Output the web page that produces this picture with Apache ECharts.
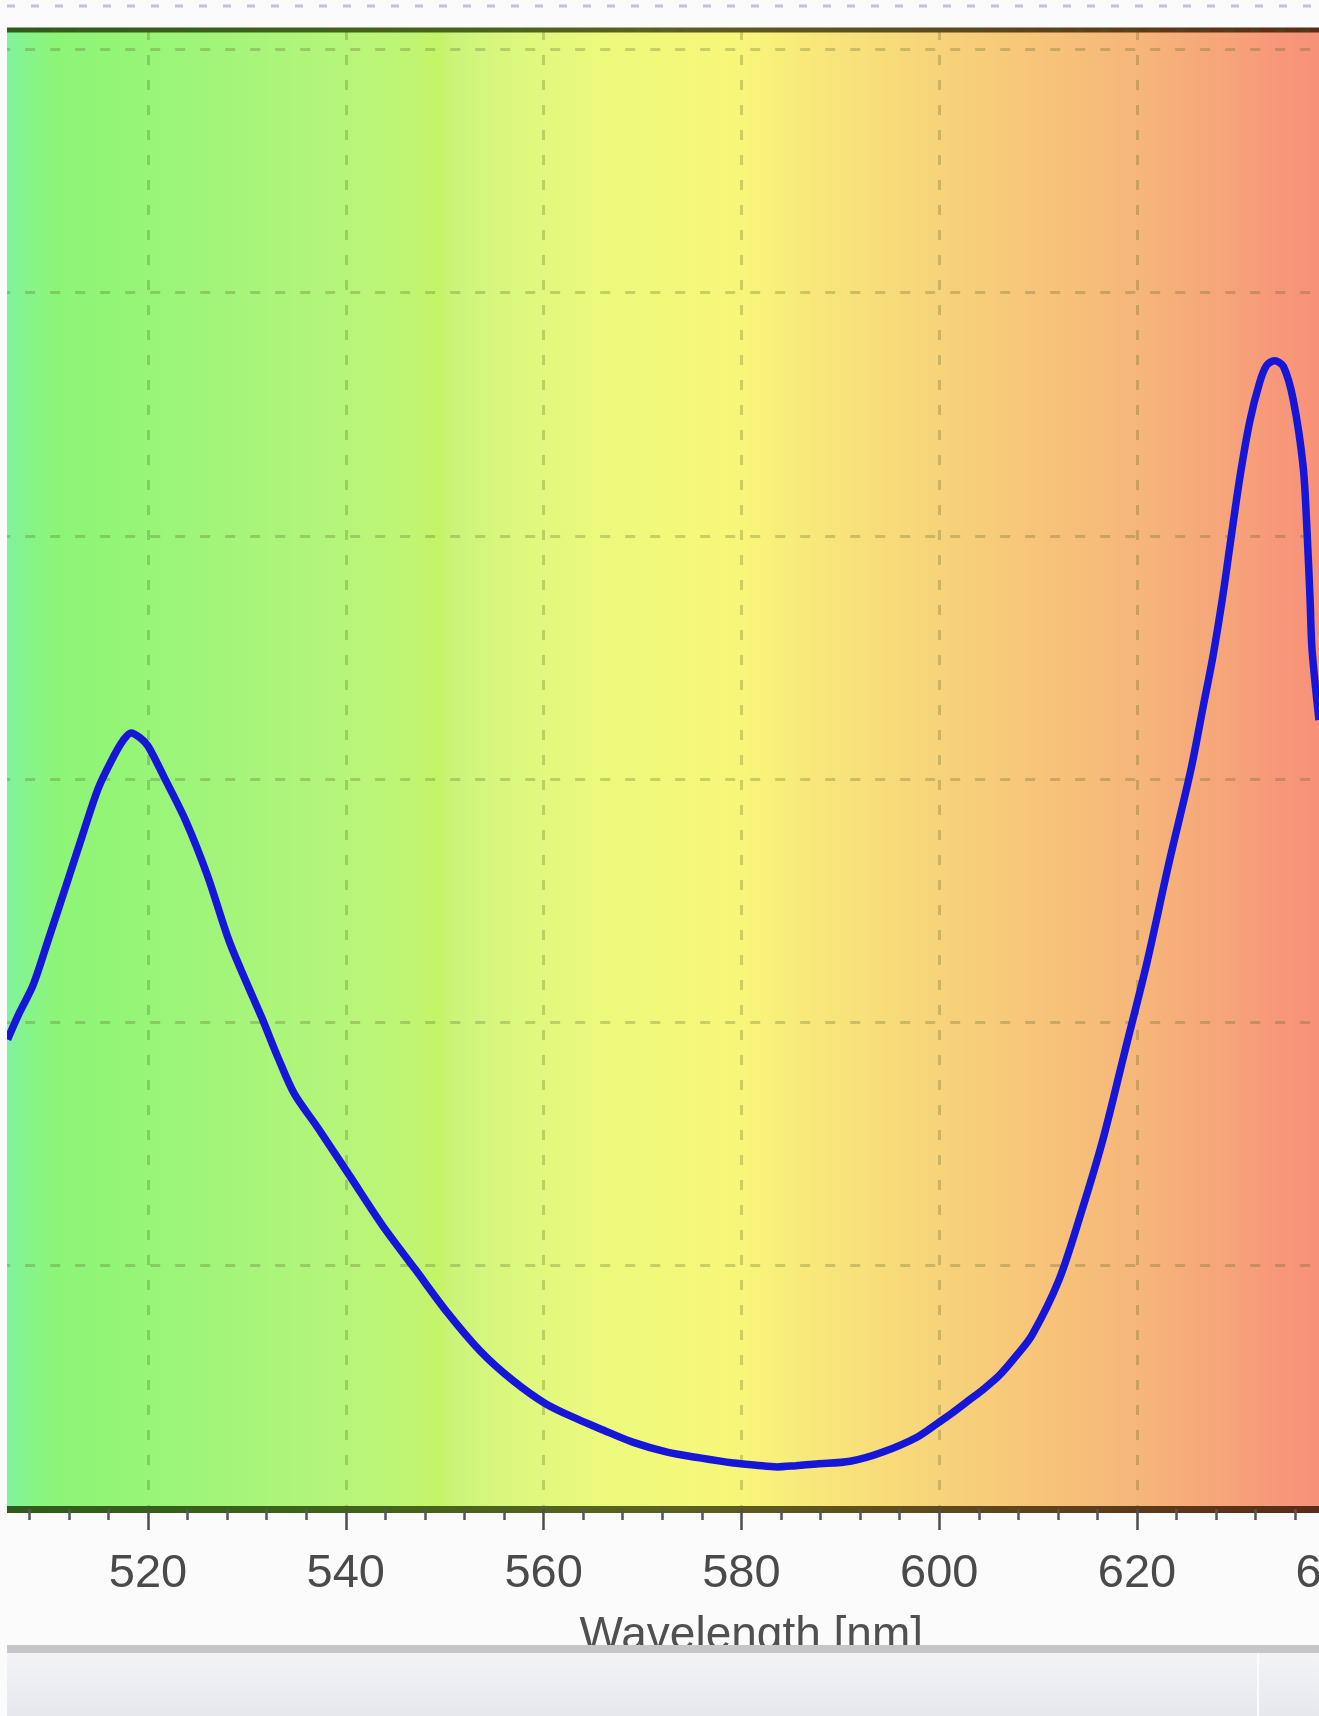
<!DOCTYPE html>
<html><head><meta charset="utf-8">
<script src="https://cdn.jsdelivr.net/npm/echarts@6/dist/echarts.min.js"></script>
<style>
html,body{margin:0;padding:0;background:#fbfbfb;width:1319px;height:1716px;overflow:hidden}
#c{position:absolute;left:7px;top:0;width:1312px;height:1716px}
</style></head><body><div id="c"></div>
<script>
// Spectrum data (wavelength in nm, intensity in counts)
const wavelengths = [505.8,507.0,508.4,510.0,511.7,513.3,515.0,516.6,517.5,518.3,519.2,520.0,521.6,523.8,526.0,528.2,530.0,531.5,533.2,534.8,537.1,540.4,543.7,547.0,550.3,553.6,556.9,560.2,563.6,565.7,569.0,572.5,575.8,579.2,581.5,583.6,585.5,587.6,591.0,594.3,597.8,600.0,601.1,603.3,604.4,606.1,607.8,609.4,612.1,614.3,616.6,618.8,621.0,623.2,625.4,626.7,627.7,628.7,629.4,630.4,631.4,632.4,633.1,633.9,634.8,635.8,636.8,637.2,637.5,637.7,638.4];
const intensities = [1930,2040,2155,2350,2560,2760,2965,3099,3160,3190,3170,3136,3010,2830,2605,2335,2160,2020,1850,1706,1571,1369,1166,986,806,649,528,433,366,330,275,234,210,189,180,173,178,185,196,234,296,357,388,456,490,550,630,716,941,1211,1526,1886,2245,2650,3030,3300,3510,3760,3960,4240,4470,4630,4700,4720,4696,4558,4283,4011,3736,3531,3243];

// Axis ranges
const X_MIN = 500, X_MAX = 662, X_STEP = 20;
const Y_MIN = 0, Y_MAX = 6079, Y_STEP = 1000;

// Spectrum background colour stops (wavelength -> colour)
const bgNm =     [500,     505.8,    508,      511,      516,      522,      530,      540,      547,      549.5,    551,      558,      566,      574,      580,      585,      592,      600,      610,      620,      628,      634,      640,      662];
const bgColors = ['#7cf0a8','#80f2a0','#86f48a','#8cf578','#92f576','#9af578','#a6f57a','#b6f57a','#c0f572','#c4f366','#cbf47a','#def87e','#ecf97c','#f4f87a','#f8f67a','#f8ec7a','#f8e07a','#f7d37a','#f7c47a','#f6b67a','#f6a67a','#f7987a','#f78e78','#f08070'];
const borderNm =     [500,      540,      570,      600,      640,      662];
const borderColors = ['#2c5a1c','#3e6418','#5a6220','#5e4a1c','#5a2a16','#552414'];

const toStops = (nms, cols) => nms.map((n, i) => ({offset: (n - X_MIN) / (X_MAX - X_MIN), color: cols[i]}));
const hGrad = (stops) => new echarts.graphic.LinearGradient(0, 0, 1, 0, stops);

const chart = echarts.init(document.getElementById('c'), null, {renderer: 'canvas'});
const gridSplit = {show: true, lineStyle: {type: [10, 15], color: 'rgba(80,90,30,0.26)', width: 3}};

chart.setOption({
  animation: false,
  backgroundColor: 'transparent',
  grid: {
    left: -56.8, top: 30, width: 1602.2, height: 1479,
    show: true,
    backgroundColor: hGrad(toStops(bgNm, bgColors)),
    borderColor: hGrad(toStops(borderNm, borderColors)),
    borderWidth: 5,
    containLabel: false,
    outerBoundsMode: 'none'
  },
  xAxis: {
    type: 'value', min: X_MIN, max: X_MAX, interval: X_STEP,
    axisLine: {show: true, lineStyle: {color: hGrad(toStops(borderNm, borderColors)), width: 7}},
    axisTick: {show: true, length: 21, lineStyle: {color: '#4d4d4d', width: 2.5}},
    minorTick: {show: true, splitNumber: 5, length: 11, lineStyle: {color: '#555', width: 2.5}},
    axisLabel: {fontSize: 47, color: '#4a4a4a', margin: 42, fontFamily: 'Liberation Sans, Arial, sans-serif'},
    splitLine: gridSplit,
    minorSplitLine: {show: false},
    name: 'Wavelength [nm]', nameLocation: 'middle', nameGap: 104,
    nameTextStyle: {fontSize: 46, color: '#505050', fontFamily: 'Liberation Sans, Arial, sans-serif'}
  },
  yAxis: {
    type: 'value', min: Y_MIN, max: Y_MAX, interval: Y_STEP,
    axisLine: {show: false}, axisTick: {show: false}, axisLabel: {show: false},
    splitLine: gridSplit
  },
  series: [{
    type: 'line',
    data: wavelengths.map((w, i) => [w, intensities[i]]),
    showSymbol: false,
    smooth: 0.3,
    lineStyle: {color: '#1616d8', width: 7.5},
    z: 3
  }],
  graphic: [
    {type: 'line', z: 100, shape: {x1: 0, y1: 6, x2: 1312, y2: 6}, style: {stroke: '#bcc6d8', lineWidth: 3, lineDash: [8, 16]}},
    {type: 'rect', z: 100, shape: {x: 0, y: 1652, width: 1312, height: 64},
      style: {fill: new echarts.graphic.LinearGradient(0, 0, 0, 1, [{offset: 0, color: '#f3f4f7'}, {offset: 1, color: '#e6e8ee'}])}},
    {type: 'rect', z: 101, shape: {x: 0, y: 1645, width: 1312, height: 8}, style: {fill: '#c6c6c8'}},
    {type: 'line', z: 101, shape: {x1: 1251, y1: 1653, x2: 1251, y2: 1716}, style: {stroke: '#fbfbff', lineWidth: 2}}
  ]
});
</script></body></html>
